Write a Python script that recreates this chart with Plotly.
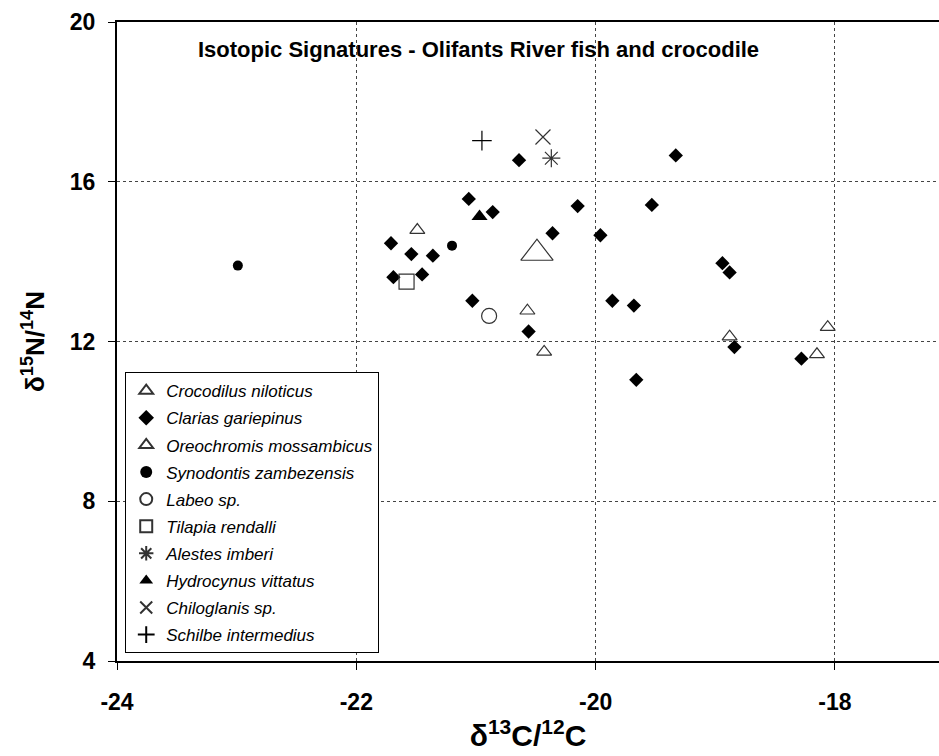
import plotly.graph_objects as go

# ---- data (delta13C, delta15N) ----
croc_x = [-20.49]
croc_y = [14.21]

clarias_x = [-20.64, -19.33, -21.06, -20.86, -20.15, -19.53, -20.36, -19.96, -21.54, -21.36,
             -21.45, -21.71, -21.69, -18.94, -18.88, -21.03, -19.86, -19.68, -20.56, -19.66,
             -18.84, -18.28]
clarias_y = [16.54, 16.66, 15.57, 15.24, 15.39, 15.42, 14.71, 14.66, 14.19, 14.15,
             13.68, 14.46, 13.61, 13.96, 13.73, 13.02, 13.02, 12.90, 12.25, 11.04,
             11.86, 11.57]

oreo_x = [-21.49, -20.57, -20.43, -18.88, -18.06, -18.15]
oreo_y = [14.79, 12.77, 11.74, 12.12, 12.36, 11.68]

syno_x = [-22.99, -21.20]
syno_y = [13.90, 14.40]

labeo_x = [-20.89]
labeo_y = [12.64]

tilapia_x = [-21.58]
tilapia_y = [13.50]

alestes_x = [-20.37]
alestes_y = [16.59]

hydro_x = [-20.97]
hydro_y = [15.13]

chilo_x = [-20.44]
chilo_y = [17.12]

schilbe_x = [-20.95]
schilbe_y = [17.03]

x_ticks = [-24, -22, -20, -18]
y_ticks = [4, 8, 12, 16, 20]

FONT = "Liberation Sans, Arial, sans-serif"
LINE = "#333333"

series = [
    ("Crocodilus niloticus", croc_x, croc_y, "triangle-up-open", 28, LINE),
    ("Clarias gariepinus", clarias_x, clarias_y, "diamond", 11, "black"),
    ("Oreochromis mossambicus", oreo_x, oreo_y, "triangle-up-open", 13, LINE),
    ("Synodontis zambezensis", syno_x, syno_y, "circle", 10, "black"),
    ("Labeo sp.", labeo_x, labeo_y, "circle-open", 15, LINE),
    ("Tilapia rendalli", tilapia_x, tilapia_y, "square-open", 15, LINE),
    ("Alestes imberi", alestes_x, alestes_y, "asterisk-open", 15, LINE),
    ("Hydrocynus vittatus", hydro_x, hydro_y, "triangle-up", 14, "black"),
    ("Chiloglanis sp.", chilo_x, chilo_y, "x-thin-open", 15, LINE),
    ("Schilbe intermedius", schilbe_x, schilbe_y, "cross-thin-open", 14, "black"),
]

fig = go.Figure()
for i, (name, xs, ys, sym, size, col) in enumerate(series):
    marker = dict(symbol=sym, size=size, color=col)
    if sym.endswith("open"):
        marker["line"] = dict(color=col, width=1.2)
    fig.add_trace(go.Scatter(
        x=xs, y=ys, mode="markers", name=name, marker=marker,
        legendgroup=f"g{i}", showlegend=True,
    ))

fig.add_annotation(
    x=0.44, y=19.3, xref="paper", yref="y",
    text="<b>Isotopic Signatures - Olifants River fish and crocodile</b>",
    showarrow=False, font=dict(family=FONT, size=22, color="black"),
)

fig.update_layout(
    width=939, height=756,
    margin=dict(l=117, r=0, t=22, b=95),
    plot_bgcolor="white", paper_bgcolor="white",
    font=dict(family=FONT, color="black"),
    showlegend=True,
    legend=dict(
        x=0.01, y=0.452, xanchor="left", yanchor="top",
        bordercolor="black", borderwidth=1, bgcolor="white",
        font=dict(family=FONT, size=17, style="italic", color="black"),
        traceorder="grouped", tracegroupgap=2, itemsizing="constant",
        itemwidth=30,
    ),
    xaxis=dict(
        range=[-24, -17.13], tickvals=x_ticks, ticktext=[str(v) for v in x_ticks],
        showline=True, linecolor="black", linewidth=2, mirror=True,
        ticks="outside", ticklen=7, tickcolor="black", ticklabelstandoff=12,
        tickfont=dict(family=FONT, size=23, color="black", weight="bold"),
        showgrid=True, gridcolor="#444444", griddash="3px,3px", gridwidth=1,
        zeroline=False,
        title=dict(text="<b>δ<sup>13</sup>C/<sup>12</sup>C</b>", font=dict(family=FONT, size=30), standoff=4),
    ),
    yaxis=dict(
        range=[4, 20], tickvals=y_ticks, ticktext=[str(v) for v in y_ticks],
        showline=True, linecolor="black", linewidth=2, mirror=False,
        ticks="outside", ticklen=7, tickcolor="black", ticklabelstandoff=8,
        tickfont=dict(family=FONT, size=23, color="black", weight="bold"),
        showgrid=True, gridcolor="#444444", griddash="3px,3px", gridwidth=1,
        zeroline=False,
        title=dict(text="<b>δ<sup>15</sup>N/<sup>14</sup>N</b>", font=dict(family=FONT, size=26), standoff=18),
    ),
)

fig.write_html("out.html")
